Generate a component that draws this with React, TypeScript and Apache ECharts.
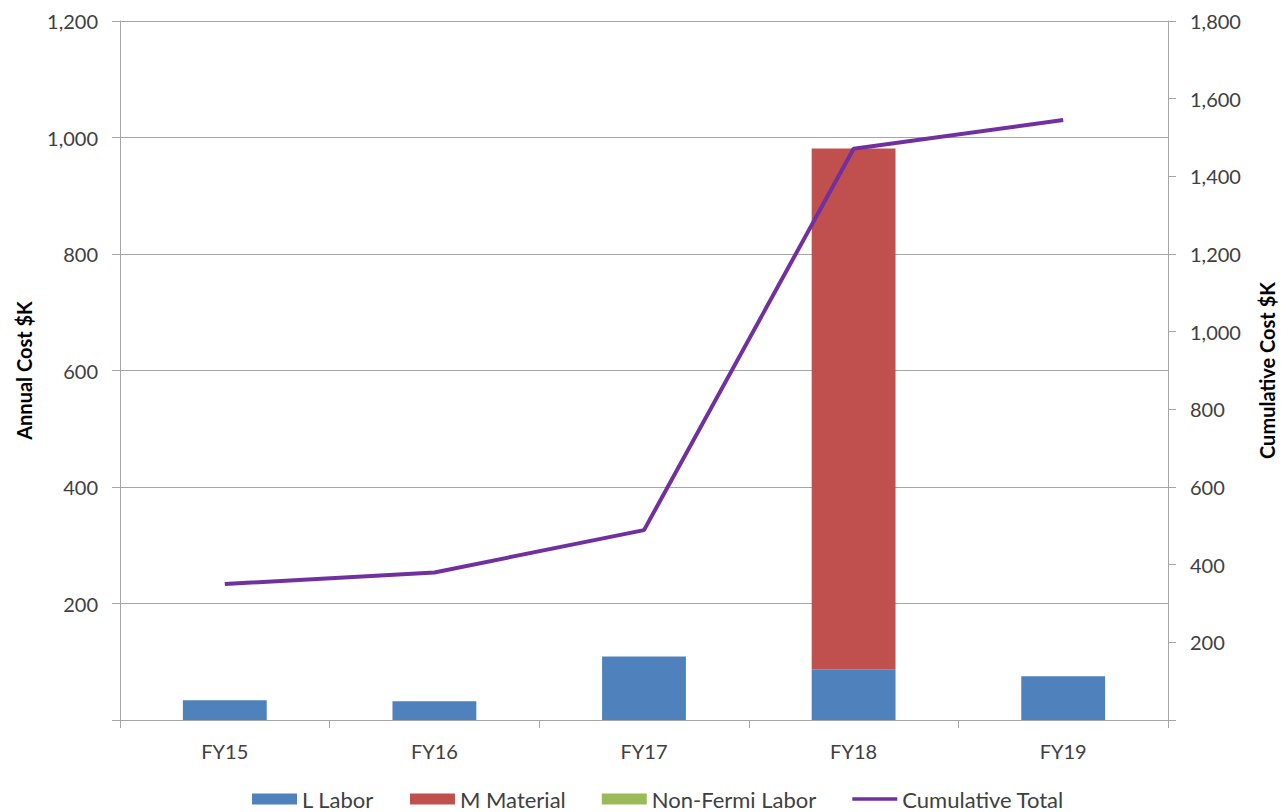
import React, { useEffect, useRef } from "react";
import * as echarts from "echarts";

const categories = ["FY15", "FY16", "FY17", "FY18", "FY19"];
const lLabor = [34, 32, 109, 87, 75];
const mMaterial = [0, 0, 0, 894, 0];
const nonFermiLabor = [0, 0, 0, 0, 0];
const cumulativeTotal = [350, 380, 489, 1471, 1545];

const FONT = "Lato, 'Open Sans', sans-serif";
const GRID_COLOR = "#a6a6a6";
const TEXT_COLOR = "#404040";

const fmt = (v: number) => (v === 0 ? "" : v.toLocaleString("en-US"));

export default function App() {
  const ref = useRef<HTMLDivElement>(null);
  useEffect(() => {
    if (!ref.current) return;
    const chart = echarts.init(ref.current, undefined, { renderer: "svg" });
    chart.setOption({
      animation: false,
      backgroundColor: "#ffffff",
      textStyle: { fontFamily: FONT },
      grid: {
        left: 120,
        right: 113,
        top: 21,
        bottom: 92,
        containLabel: false,
        outerBoundsMode: "none",
      },
      legend: {
        left: 252,
        top: 788,
        padding: 0,
        itemGap: 36,
        itemWidth: 45,
        itemHeight: 11,
        textStyle: { fontFamily: FONT, fontSize: 22, color: TEXT_COLOR, lineHeight: 22 },
        data: [
          { name: "L Labor", icon: "rect" },
          { name: "M Material", icon: "rect" },
          { name: "Non-Fermi Labor", icon: "rect" },
          { name: "Cumulative Total", icon: "path://M0,0 H50 V4 H0 Z" },
        ],
      },
      xAxis: {
        type: "category",
        data: categories,
        axisLine: { show: true, lineStyle: { color: GRID_COLOR, width: 1 } },
        axisTick: { show: true, length: 8, alignWithLabel: false, lineStyle: { color: GRID_COLOR } },
        axisLabel: { fontFamily: FONT, fontSize: 20, color: TEXT_COLOR, margin: 21 },
      },
      yAxis: [
        {
          type: "value",
          min: 0,
          max: 1200,
          interval: 200,
          name: "Annual Cost $K",
          nameLocation: "middle",
          nameGap: 86,
          nameTextStyle: { fontFamily: FONT, fontSize: 20, fontWeight: "bold", color: "#000" },
          axisLine: { show: true, lineStyle: { color: GRID_COLOR, width: 1 } },
          axisTick: { show: true, length: 8, lineStyle: { color: GRID_COLOR } },
          axisLabel: { fontFamily: FONT, fontSize: 20, color: TEXT_COLOR, margin: 22, formatter: fmt },
          splitLine: { show: true, lineStyle: { color: GRID_COLOR, width: 1 } },
        },
        {
          type: "value",
          min: 0,
          max: 1800,
          interval: 200,
          position: "right",
          name: "Cumulative Cost $K",
          nameLocation: "middle",
          nameGap: 89,
          nameTextStyle: { fontFamily: FONT, fontSize: 20, fontWeight: "bold", color: "#000" },
          axisLine: { show: true, lineStyle: { color: GRID_COLOR, width: 1 } },
          axisTick: { show: true, length: 8, lineStyle: { color: GRID_COLOR } },
          axisLabel: { fontFamily: FONT, fontSize: 20, color: TEXT_COLOR, margin: 22, formatter: fmt },
          splitLine: { show: false },
        },
      ],
      series: [
        {
          name: "L Labor",
          type: "bar",
          stack: "cost",
          barWidth: "40%",
          yAxisIndex: 0,
          itemStyle: { color: "#4F81BD" },
          data: lLabor,
        },
        {
          name: "M Material",
          type: "bar",
          stack: "cost",
          yAxisIndex: 0,
          itemStyle: { color: "#C0504D" },
          data: mMaterial,
        },
        {
          name: "Non-Fermi Labor",
          type: "bar",
          stack: "cost",
          yAxisIndex: 0,
          itemStyle: { color: "#9BBB59" },
          data: nonFermiLabor,
        },
        {
          name: "Cumulative Total",
          type: "line",
          yAxisIndex: 1,
          symbol: "none",
          showSymbol: false,
          lineStyle: { color: "#7030A0", width: 4 },
          itemStyle: { color: "#7030A0" },
          data: cumulativeTotal,
          z: 5,
        },
      ],
    });
    return () => chart.dispose();
  }, []);
  return (
    <div
      ref={ref}
      style={{ position: "fixed", left: 0, top: 0, width: 1281, height: 812 }}
    />
  );
}
